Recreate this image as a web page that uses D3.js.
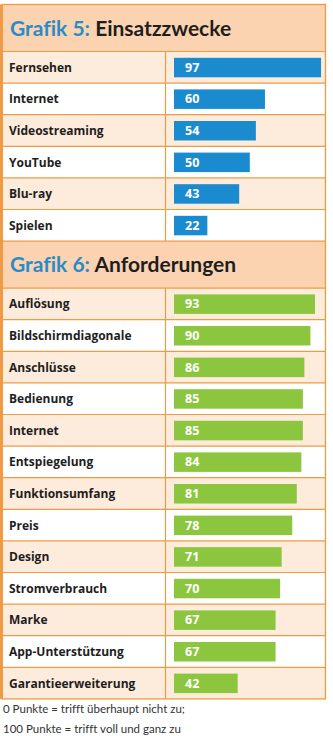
<!DOCTYPE html>
<html><head><meta charset="utf-8">
<script src="https://cdn.jsdelivr.net/npm/d3@7"></script>
<style>html,body{margin:0;padding:0;background:#fff;}svg{display:block;}text{font-variant-ligatures:none;}</style>
</head><body>
<script>
const title1Prefix = "Grafik 5:";
const title1Text = "Einsatzzwecke";
const categories1 = ["Fernsehen","Internet","Videostreaming","YouTube","Blu-ray","Spielen"];
const values1 = [97,60,54,50,43,22];
const title2Prefix = "Grafik 6:";
const title2Text = "Anforderungen";
const categories2 = ["Auflösung","Bildschirmdiagonale","Anschlüsse","Bedienung","Internet","Entspiegelung","Funktionsumfang","Preis","Design","Stromverbrauch","Marke","App-Unterstützung","Garantieerweiterung"];
const values2 = [93,90,86,85,85,84,81,78,71,70,67,67,42];
const footnotes = ["0 Punkte = trifft überhaupt nicht zu;","100 Punkte = trifft voll und ganz zu"];

const W = 333, H = 736;
const left = 2, right = 325.5, divX = 165.5;
const rowH = 31.6, titleH = 47;
const orange = "#ef9a45", titleBg = "#fbd3b0", peach = "#fdebdc";
const svg = d3.select("body").append("svg").attr("width", W).attr("height", H);
const font = "'Open Sans', sans-serif";

const x = d3.scaleLinear().domain([0,100]).range([174, 325.6]);

function section(top, prefix, text, cats, vals, color) {
  const g = svg.append("g");
  g.append("rect").attr("x", left).attr("y", top).attr("width", right-left).attr("height", titleH).attr("fill", titleBg);
  const t = g.append("text").attr("x", 10).attr("y", top + 31).attr("font-family", "Lato, sans-serif").attr("font-weight", 700).attr("font-size", 21);
  t.append("tspan").attr("fill", "#2a8cc7").text(prefix + " ");
  t.append("tspan").attr("fill", "#1e1e1e").text(text);
  const y0 = top + titleH;
  const y = d3.scaleBand().domain(cats).range([y0, y0 + cats.length*rowH]);
  const rows = g.selectAll("g.row").data(cats.map((c,i)=>({c, v: vals[i], i}))).join("g");
  rows.append("rect").attr("x", left).attr("y", d=>y(d.c)).attr("width", right-left).attr("height", y.bandwidth())
    .attr("fill", d=> d.i%2===0 ? peach : "#ffffff");
  rows.append("line").attr("x1", left).attr("x2", right).attr("y1", d=>y(d.c)).attr("y2", d=>y(d.c)).attr("stroke", orange).attr("stroke-width", 1.2);
  rows.append("text").attr("x", 9).attr("y", d=>y(d.c)+y.bandwidth()/2+4.5).attr("font-family", font).attr("font-weight", 700)
    .attr("font-size", 12).attr("fill", "#1e1e1e").text(d=>d.c);
  rows.append("rect").attr("x", x(0)).attr("y", d=>y(d.c)+6.3).attr("width", d=>x(d.v)-x(0)).attr("height", 19.5).attr("fill", color);
  rows.append("text").attr("x", x(0)+11).attr("y", d=>y(d.c)+y.bandwidth()/2+4.5).attr("font-family", font).attr("font-weight", 700)
    .attr("font-size", 12.5).attr("fill", "#ffffff").text(d=>d.v);
  g.append("line").attr("x1", divX).attr("x2", divX).attr("y1", y0).attr("y2", y0 + cats.length*rowH).attr("stroke", orange).attr("stroke-width", 1.2);
  return y0 + cats.length*rowH;
}

const top1 = 4.5;
const end1 = section(top1, title1Prefix, title1Text, categories1, values1, "#1b8bd0");
const end2 = section(end1, title2Prefix, title2Text, categories2, values2, "#8cc63f");
svg.append("line").attr("x1", left).attr("x2", right).attr("y1", end1).attr("y2", end1).attr("stroke", orange).attr("stroke-width", 1.2);
// outer border
svg.append("rect").attr("x", left).attr("y", top1).attr("width", right-left).attr("height", end2-top1)
  .attr("fill", "none").attr("stroke", orange).attr("stroke-width", 1.3);
svg.append("rect").attr("x", 0).attr("y", top1).attr("width", 3).attr("height", end2-top1).attr("fill", orange);

svg.selectAll("text.foot").data(footnotes).join("text").attr("class","foot")
  .attr("x", 3).attr("y", (d,i)=> end2 + 14 + i*20).attr("font-family", "Lato, sans-serif").attr("font-weight", 400)
  .attr("font-size", 11.5).attr("fill", "#333").text(d=>d);
</script>
</body></html>
